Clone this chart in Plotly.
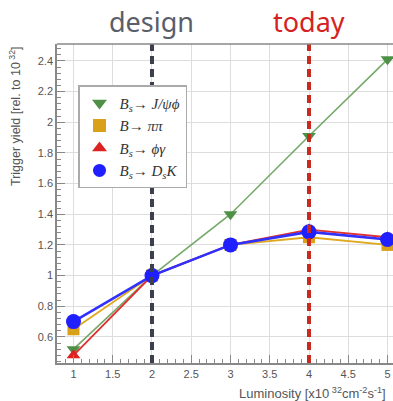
import plotly.graph_objects as go

luminosity = [1, 2, 3, 4, 5]
y_jpsiphi = [0.52, 1.0, 1.40, 1.91, 2.41]
y_pipi = [0.65, 1.0, 1.20, 1.25, 1.20]
y_phigamma = [0.48, 1.0, 1.20, 1.30, 1.25]
y_dsk = [0.70, 1.0, 1.20, 1.285, 1.235]

names = [
    "<i>B</i><sub><i>s</i></sub>\u2192 <i>J/\u03c8\u03d5</i>",
    "<i>B</i>\u2192 <i>\u03c0\u03c0</i>",
    "<i>B</i><sub><i>s</i></sub>\u2192 <i>\u03d5\u03b3</i>",
    "<i>B</i><sub><i>s</i></sub>\u2192 <i>D</i><sub><i>s</i></sub><i>K</i>",
]
series = [y_jpsiphi, y_pipi, y_phigamma, y_dsk]
line_colors = ["#74a96a", "#e0a820", "#e03030", "#3030ff"]
marker_colors = ["#4f9047", "#d9a01a", "#dd2222", "#1f1fff"]
symbols = ["triangle-down", "square", "triangle-up", "circle"]
sizes = [12, 12, 12, 15]
widths = [1.6, 1.8, 1.8, 2.6]

design_x = 2
today_x = 4

fig = go.Figure()
fig.add_shape(type="line", xref="x", yref="paper", x0=design_x, x1=design_x, y0=0, y1=1,
              line=dict(color="#3c3f4c", width=4, dash="8px,5px"), layer="above")
fig.add_shape(type="line", xref="x", yref="paper", x0=today_x, x1=today_x, y0=0, y1=1,
              line=dict(color="#c82a20", width=4, dash="8px,5px"), layer="above")
fig.add_shape(type="line", xref="paper", yref="paper", x0=0, x1=1, y0=1, y1=1,
              line=dict(color="#888888", width=1.5), layer="above")

for ys, lc, mc, sym, sz, w in zip(series, line_colors, marker_colors, symbols, sizes, widths):
    fig.add_trace(go.Scatter(
        x=luminosity, y=ys, mode="lines+markers",
        line=dict(color=lc, width=w),
        marker=dict(color=mc, symbol=sym, size=sz, line=dict(width=0)),
        showlegend=False, cliponaxis=False,
    ))
for nm, mc, sym in zip(names, marker_colors, symbols):
    fig.add_trace(go.Scatter(
        x=[None], y=[None], mode="markers", name=nm,
        marker=dict(color=mc, symbol=sym, size=13),
    ))

fig.add_annotation(x=design_x, y=1.0, xref="x", yref="paper", yshift=2, text="design",
                   showarrow=False, xanchor="center", yanchor="bottom",
                   font=dict(family="Noto Sans", size=27, color="#5a5e6a"))
fig.add_annotation(x=today_x, y=1.0, xref="x", yref="paper", yshift=2, text="today",
                   showarrow=False, xanchor="center", yanchor="bottom",
                   font=dict(family="Noto Sans", size=27, color="#d42222"))

fig.add_annotation(x=-0.125, y=1.0, xref="paper", yref="paper", textangle=-90,
                   text="Trigger yield [rel. to 10<sup> 32</sup>]", showarrow=False,
                   xanchor="center", yanchor="top",
                   font=dict(family="Liberation Sans", size=12.5, color="#555555"))
fig.add_annotation(x=0.536, y=-0.093, xref="paper", yref="paper",
                   text="Luminosity [x10<sup> 32</sup>cm<sup>-2</sup>s<sup>-1</sup>]", showarrow=False,
                   xanchor="left", yanchor="middle",
                   font=dict(family="Liberation Sans", size=13, color="#555555"))

fig.update_layout(
    width=393, height=401,
    margin=dict(l=57, r=0, t=44, b=38),
    paper_bgcolor="white", plot_bgcolor="white",
    legend=dict(x=0.0625, y=0.871, xanchor="left", yanchor="top",
                bgcolor="white", bordercolor="#aaaaaa", borderwidth=1.5,
                font=dict(family="Liberation Serif", size=15, color="#333333"),
                itemwidth=30, tracegroupgap=2),
    xaxis=dict(range=[0.79, 5.07], tickvals=[1, 1.5, 2, 2.5, 3, 3.5, 4, 4.5, 5],
               ticktext=["1", "1.5", "2", "2.5", "3", "3.5", "4", "4.5", "5"],
               showgrid=True, gridcolor="#dddddd", gridwidth=1, zeroline=False,
               showline=True, linecolor="#888888", linewidth=1.5,
               ticks="inside", ticklen=8, tickcolor="#888888",
               minor=dict(dtick=0.1, ticks="inside", ticklen=4, tickcolor="#888888", showgrid=False),
               tickfont=dict(family="Liberation Sans", size=11, color="#555555")),
    yaxis=dict(range=[0.43, 2.51], tickvals=[0.6, 0.8, 1, 1.2, 1.4, 1.6, 1.8, 2, 2.2, 2.4],
               ticktext=["0.6", "0.8", "1", "1.2", "1.4", "1.6", "1.8", "2", "2.2", "2.4"],
               showgrid=True, gridcolor="#dddddd", gridwidth=1, zeroline=False,
               showline=True, linecolor="#888888", linewidth=1.5,
               ticks="inside", ticklen=8, tickcolor="#888888",
               minor=dict(dtick=0.04, tick0=0, ticks="inside", ticklen=4, tickcolor="#888888", showgrid=False),
               tickfont=dict(family="Liberation Sans", size=11, color="#555555")),
)

fig.write_html("out.html")
